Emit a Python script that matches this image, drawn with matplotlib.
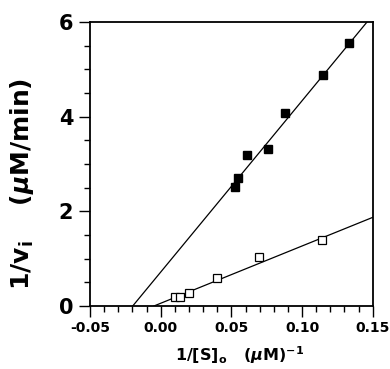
import numpy as np
import matplotlib
matplotlib.use("Agg")
import matplotlib.pyplot as plt
from matplotlib.ticker import MultipleLocator, FormatStrFormatter

# data
x_filled = [0.0525, 0.0544, 0.0612, 0.0760, 0.0880, 0.1147, 0.1330]
y_filled = [2.52, 2.71, 3.19, 3.31, 4.07, 4.88, 5.55]
x_open = [0.0103, 0.0134, 0.0197, 0.0395, 0.0694, 0.1142]
y_open = [0.18, 0.20, 0.27, 0.59, 1.03, 1.39]

# fitted lines: (x intercept, slope)
fit_filled = (-0.0198, 36.2)
fit_open = (-0.0048, 12.1)

plt.rcParams["font.family"] = "DejaVu Sans"
plt.rcParams["font.weight"] = "bold"
plt.rcParams["axes.unicode_minus"] = False
plt.rcParams["mathtext.fontset"] = "dejavusans"
plt.rcParams["mathtext.default"] = "bf"

fig = plt.figure(figsize=(3.9, 3.69), dpi=100)
ax = fig.add_axes([0.2308, 0.1707, 0.725, 0.7697])

xmin, xmax, ymin, ymax = -0.05, 0.15, 0, 6

# lines, from x intercept to edge of the box
for x0, k in (fit_filled, fit_open):
    x_end = min(xmax, x0 + ymax / k)
    xs = np.array([x0, x_end])
    ax.plot(xs, k * (xs - x0), color="black", lw=0.9)

ax.plot(x_filled, y_filled, "s", ms=6, color="black")
ax.plot(x_open, y_open, "s", ms=5.5, mfc="white", mec="black", mew=0.9)

ax.set_xlim(xmin, xmax)
ax.set_ylim(ymin, ymax)
ax.xaxis.set_major_locator(MultipleLocator(0.05))
ax.xaxis.set_minor_locator(MultipleLocator(0.01))
ax.yaxis.set_major_locator(MultipleLocator(2))
ax.yaxis.set_minor_locator(MultipleLocator(0.5))
ax.xaxis.set_major_formatter(FormatStrFormatter("%.2f"))

ax.tick_params(which="both", direction="out", top=False, right=False, width=1.0)
ax.tick_params(which="major", length=8)
ax.tick_params(which="minor", length=4)
ax.tick_params(axis="x", labelsize=10, pad=3)
ax.tick_params(axis="y", labelsize=15, pad=4)
for lab in ax.get_xticklabels() + ax.get_yticklabels():
    lab.set_fontweight("bold")
for s in ax.spines.values():
    s.set_linewidth(1.3)

ax.set_xlabel(r"1/[S]$_\mathregular{o}$   ($\mathit{\mu}$M)$^\mathregular{-1}$",
              fontsize=11.5, fontweight="bold")
ax.set_ylabel(r"1/v$_\mathregular{i}$    ($\mathit{\mu}$M/min)",
              fontsize=18, fontweight="bold")
ax.xaxis.set_label_coords(0.53, -0.135)
ax.yaxis.set_label_coords(-0.19, 0.43)

fig.savefig("out.png", dpi=100)
